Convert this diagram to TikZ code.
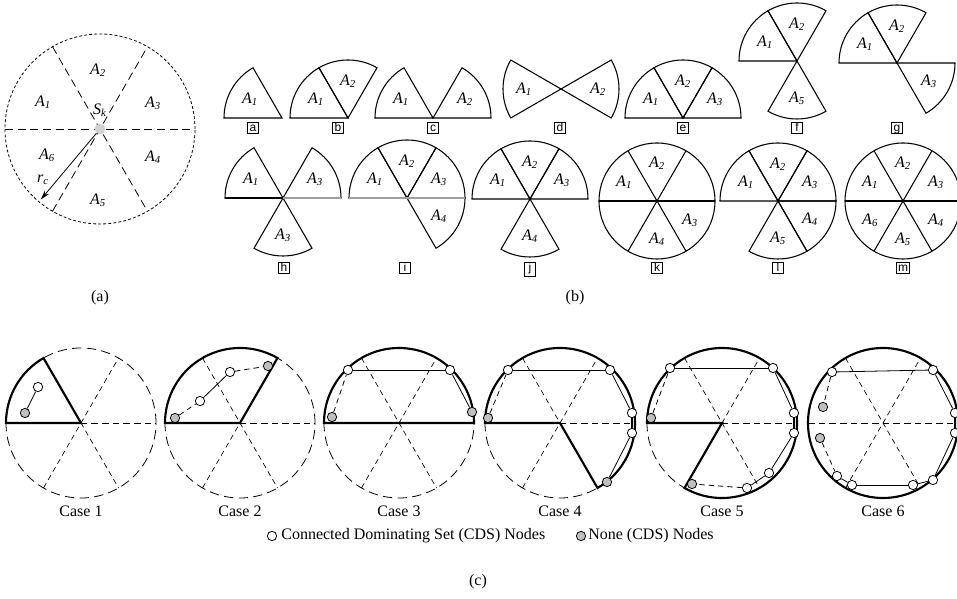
\documentclass[tikz,border=0pt]{standalone}
\usepackage{fontspec}
\setmainfont{Liberation Serif}
\setsansfont{Liberation Sans}
\usepackage{tikz}
\usetikzlibrary{arrows.meta,positioning}

% sector label A_n
\newcommand{\secl}[1]{\textit{A}\textsubscript{\textit{#1}}}

% one sector of radius 58 with its label
\newcommand{\drawsector}[4]{%
  \draw[sectorline] (0,0) -- (#2:58) arc[start angle=#2, end angle=#3, radius=58] -- cycle;
  \node[arealabel] (#1-#2) at ({(#2+#3)/2}:37) {\secl{#4}};%
}

\begin{document}
\begin{tikzpicture}[
    x=0.75pt, y=0.75pt,
    sectorline/.style={line width=0.8pt, black},
    arealabel/.style={font=\fontsize{12}{14}\selectfont, inner sep=0pt},
    boxlabel/.style={draw, line width=0.45pt, anchor=base,
        font=\sffamily\fontsize{9}{10}\selectfont,
        inner sep=1pt, minimum width=8.5pt, text height=6.5pt, text depth=0.3pt},
    captext/.style={font=\fontsize{12}{14}\selectfont, inner sep=0pt},
    fineouter/.style={line width=0.6pt, dash pattern=on 2.2pt off 1.6pt},
    fineradius/.style={line width=0.6pt, dash pattern=on 6pt off 3.5pt},
    caseouter/.style={line width=0.6pt, dash pattern=on 7pt off 4pt},
    caseaxis/.style={line width=0.5pt, dash pattern=on 5pt off 3pt},
    caseradius/.style={line width=0.5pt, dash pattern=on 4pt off 3pt},
    thickedge/.style={line width=1.6pt},
    chain/.style={line width=0.6pt},
    chaindash/.style={line width=0.6pt, dash pattern=on 4pt off 3pt},
    cdsnode/.style={circle, draw, line width=0.6pt, fill=white,
        inner sep=0pt, minimum size=7pt},
    noncds/.style={cdsnode, fill=black!25}
]
\useasboundingbox (0,0) rectangle (957,599);

% ---------------- (a) ----------------

\begin{scope}[shift={(100,470)}]
\draw[fineouter] (0,0) circle[radius=95];
\draw[fineradius] (180:95) -- (0:95);
\draw[fineradius] (240:95) -- (60:95);
\draw[fineradius] (120:95) -- (300:95);

\node[circle, fill=black!18, minimum size=8pt, inner sep=0pt] (sk) at (0,0) {};
\node[arealabel] (sklab) at (0,19) {\textit{S}\textsubscript{\textit{k}}};

% radius r_c
\coordinate (rcend) at (230:92);
\draw[line width=0.6pt, -{Stealth[length=7pt, width=4pt]}] (sk) -- (rcend);
\node[arealabel] (rclab) at (-57,-51) {\textit{r}\textsubscript{\textit{c}}};

\node[arealabel] (a-1) at (-57,27) {\secl{1}};
\node[arealabel] (a-2) at (-2,59) {\secl{2}};
\node[arealabel] (a-3) at (53,26) {\secl{3}};
\node[arealabel] (a-4) at (53,-28) {\secl{4}};
\node[arealabel] (a-5) at (-2,-71) {\secl{5}};
\node[arealabel] (a-6) at (-53,-26) {\secl{6}};
\end{scope}

\node[captext] (capa) at (100,301) {(a)};

% ---------------- (b) ----------------

% first row
\begin{scope}[shift={(282,481)}]
\drawsector{a}{120}{180}{1}
\end{scope}
\node[boxlabel] (box-a) at (253,467) {a};

\begin{scope}[shift={(348,481)}]
\drawsector{b}{120}{180}{1}
\drawsector{b}{60}{120}{2}
\end{scope}
\node[boxlabel] (box-b) at (338,467) {b};

\begin{scope}[shift={(433,481)}]
\drawsector{c}{120}{180}{1}
\drawsector{c}{0}{60}{2}
\end{scope}
\node[boxlabel] (box-c) at (433,467) {c};

\begin{scope}[shift={(561,510)}]
\drawsector{d}{150}{210}{1}
\drawsector{d}{330}{390}{2}
\end{scope}
\node[boxlabel] (box-d) at (560,467) {d};

\begin{scope}[shift={(683,481)}]
\drawsector{e}{120}{180}{1}
\drawsector{e}{60}{120}{2}
\drawsector{e}{0}{60}{3}
\end{scope}
\node[boxlabel] (box-e) at (683,467) {e};

\begin{scope}[shift={(797,538)}]
\drawsector{f}{120}{180}{1}
\drawsector{f}{60}{120}{2}
\drawsector{f}{240}{300}{5}
\end{scope}
\node[boxlabel] (box-f) at (797,467) {f};

\begin{scope}[shift={(897,536)}]
\drawsector{g}{120}{180}{1}
\drawsector{g}{60}{120}{2}
\drawsector{g}{300}{360}{3}
\end{scope}
\node[boxlabel] (box-g) at (897,467) {g};

% second row
\begin{scope}[shift={(283,401)}]
\drawsector{h}{120}{180}{1}
\drawsector{h}{0}{60}{3}
\drawsector{h}{240}{300}{3}
\draw[line width=1.2pt, black] (180:58) -- (0,0);
\draw[line width=1.2pt, gray!75] (0,0) -- (0:58);
\end{scope}
\node[boxlabel] (box-h) at (284,327) {h};

\begin{scope}[shift={(407,401)}]
\drawsector{i}{120}{180}{1}
\drawsector{i}{60}{120}{2}
\drawsector{i}{0}{60}{3}
\drawsector{i}{300}{360}{4}
\draw[line width=1.2pt, gray!75] (180:58) -- (0:58);
\end{scope}
\node[boxlabel] (box-i) at (405,327) {i};

\begin{scope}[shift={(530,400)}]
\drawsector{j}{120}{180}{1}
\drawsector{j}{60}{120}{2}
\drawsector{j}{0}{60}{3}
\drawsector{j}{240}{300}{4}
\end{scope}
\node[boxlabel, text depth=2.2pt] (box-j) at (530,327) {j};

\begin{scope}[shift={(657,398)}]
\draw[sectorline] (0,0) circle[radius=58];
\draw[sectorline] (180:58) -- (0:58);
\draw[sectorline] (240:58) -- (60:58);
\draw[sectorline] (120:58) -- (300:58);
\node[arealabel] (k-120) at (150:38) {\secl{1}};
\node[arealabel] (k-60) at (90:38) {\secl{2}};
\node[arealabel] (k-300) at (330:38) {\secl{3}};
\node[arealabel] (k-240) at (270:38) {\secl{4}};
\end{scope}
\node[boxlabel] (box-k) at (657,327) {k};

\begin{scope}[shift={(778,398)}]
\drawsector{l}{120}{180}{1}
\drawsector{l}{60}{120}{2}
\drawsector{l}{0}{60}{3}
\drawsector{l}{300}{360}{4}
\drawsector{l}{240}{300}{5}
\end{scope}
\node[boxlabel] (box-l) at (778,327) {l};

\begin{scope}[shift={(903,398)}]
\draw[sectorline] (0,0) circle[radius=58];
\draw[sectorline] (180:58) -- (0:58);
\draw[sectorline] (240:58) -- (60:58);
\draw[sectorline] (120:58) -- (300:58);
\node[arealabel] (m-120) at (150:38) {\secl{1}};
\node[arealabel] (m-60) at (90:38) {\secl{2}};
\node[arealabel] (m-0) at (30:38) {\secl{3}};
\node[arealabel] (m-300) at (330:38) {\secl{4}};
\node[arealabel] (m-240) at (270:38) {\secl{5}};
\node[arealabel] (m-180) at (210:38) {\secl{6}};
\end{scope}
\node[boxlabel] (box-m) at (903,327) {m};

\node[captext] (capb) at (575,301) {(b)};

% ---------------- (c) ----------------

% dashed range circles
\foreach \cx in {81,240,399,560,722,883} {
  \begin{scope}[shift={(\cx,176)}]
  \draw[caseouter] (0,0) circle[radius=75];
  \draw[caseaxis] (180:75) -- (0:75);
  \draw[caseradius] (240:75) -- (60:75);
  \draw[caseradius] (120:75) -- (300:75);
  \end{scope}
}

% Case 1
\begin{scope}[shift={(81,176)}]
\draw[thickedge] (0,0) -- (120:75) arc[start angle=120, end angle=180, radius=75] -- cycle;
\node[noncds] (c1n1) at (-56,10) {};
\node[cdsnode] (c1n2) at (-43,36) {};
\draw[chain] (c1n1) -- (c1n2);
\node[captext] (case1) at (0,-88) {Case 1};
\end{scope}

% Case 2
\begin{scope}[shift={(240,176)}]
\draw[thickedge] (0,0) -- (60:75) arc[start angle=60, end angle=180, radius=75] -- cycle;
\node[noncds] (c2n1) at (-65,5) {};
\node[cdsnode] (c2n2) at (-40,22) {};
\node[cdsnode] (c2n3) at (-10,51) {};
\node[noncds] (c2n4) at (28,57) {};
\draw[chaindash] (c2n1) -- (c2n2);
\draw[chain] (c2n2) -- (c2n3);
\draw[chaindash] (c2n3) -- (c2n4);
\node[captext] (case2) at (0,-88) {Case 2};
\end{scope}

% Case 3
\begin{scope}[shift={(399,176)}]
\draw[thickedge] (0:75) arc[start angle=0, end angle=180, radius=75] -- cycle;
\node[noncds] (c3n1) at (-67,6) {};
\node[cdsnode] (c3n2) at (-51,53) {};
\node[cdsnode] (c3n3) at (51,53) {};
\node[noncds] (c3n4) at (73,11) {};
\draw[chaindash] (c3n1) -- (c3n2);
\draw[chain] (c3n2) -- (c3n3);
\draw[chain] (c3n3) -- (c3n4);
\node[captext] (case3) at (0,-88) {Case 3};
\end{scope}

% Case 4
\begin{scope}[shift={(560,176)}]
\draw[thickedge] (0,0) -- (300:75) arc[start angle=-60, end angle=180, radius=75] -- cycle;
\node[noncds] (c4n1) at (-72,5) {};
\node[cdsnode] (c4n2) at (-52,53) {};
\node[cdsnode] (c4n3) at (50,53) {};
\node[cdsnode] (c4n4) at (72,10) {};
\node[cdsnode] (c4n5) at (72,-10) {};
\node[noncds] (c4n6) at (47,-59) {};
\draw[chaindash] (c4n1) -- (c4n2);
\draw[chain] (c4n2) -- (c4n3);
\draw[chain] (c4n3) -- (c4n4);
\draw[thickedge] (c4n4) -- (c4n5);
\draw[chain] (c4n5) -- (c4n6);
\node[captext] (case4) at (0,-88) {Case 4};
\end{scope}

% Case 5
\begin{scope}[shift={(722,176)}]
\draw[thickedge] (0,0) -- (240:75) arc[start angle=-120, end angle=180, radius=75] -- cycle;
\node[noncds] (c5n1) at (-71,5) {};
\node[cdsnode] (c5n2) at (-52,55) {};
\node[cdsnode] (c5n3) at (51,55) {};
\node[cdsnode] (c5n4) at (72,10) {};
\node[cdsnode] (c5n5) at (72,-10) {};
\node[cdsnode] (c5n6) at (47,-50) {};
\node[cdsnode] (c5n7) at (25,-65) {};
\node[noncds] (c5n8) at (-30,-61) {};
\draw[chaindash] (c5n1) -- (c5n2);
\draw[chain] (c5n2) -- (c5n3);
\draw[chain] (c5n3) -- (c5n4);
\draw[thickedge] (c5n4) -- (c5n5);
\draw[chain] (c5n5) -- (c5n6);
\draw[chain] (c5n6) -- (c5n7);
\draw[chaindash] (c5n7) -- (c5n8);
\node[captext] (case5) at (0,-88) {Case 5};
\end{scope}

% Case 6
\begin{scope}[shift={(883,176)}]
\draw[thickedge] (0,0) circle[radius=75];
\node[cdsnode] (c6n1) at (-51,51) {};
\node[noncds] (c6n2) at (-60,16) {};
\node[noncds] (c6n3) at (-63,-15) {};
\node[cdsnode] (c6n4) at (-46,-53) {};
\node[cdsnode] (c6n5) at (-31,-62) {};
\node[cdsnode] (c6n6) at (30,-62) {};
\node[cdsnode] (c6n7) at (50,-57) {};
\node[cdsnode] (c6n8) at (72,-10) {};
\node[cdsnode] (c6n9) at (72,10) {};
\node[cdsnode] (c6n10) at (50,53) {};
\draw[chaindash] (c6n1) -- (c6n2);
\draw[chaindash] (c6n3) -- (c6n4);
\draw[chain] (c6n4) -- (c6n5);
\draw[chain] (c6n5) -- (c6n6);
\draw[chain] (c6n6) -- (c6n7);
\draw[chain] (c6n7) -- (c6n8);
\draw[thickedge] (c6n8) -- (c6n9);
\draw[chain] (c6n9) -- (c6n10);
\draw[chain] (c6n10) -- (c6n1);
\node[captext] (case6) at (0,-88) {Case 6};
\end{scope}

% legend
\node[cdsnode] (legcds) at (272,63) {};
\node[captext, right=3pt of legcds] (legcdstext) {Connected Dominating Set (CDS) Nodes};
\node[noncds] (legnon) at (581,63) {};
\node[captext, right=1.5pt of legnon] (legnontext) {None (CDS) Nodes};

\node[captext] (capc) at (478,17) {(c)};

\end{tikzpicture}
\end{document}
